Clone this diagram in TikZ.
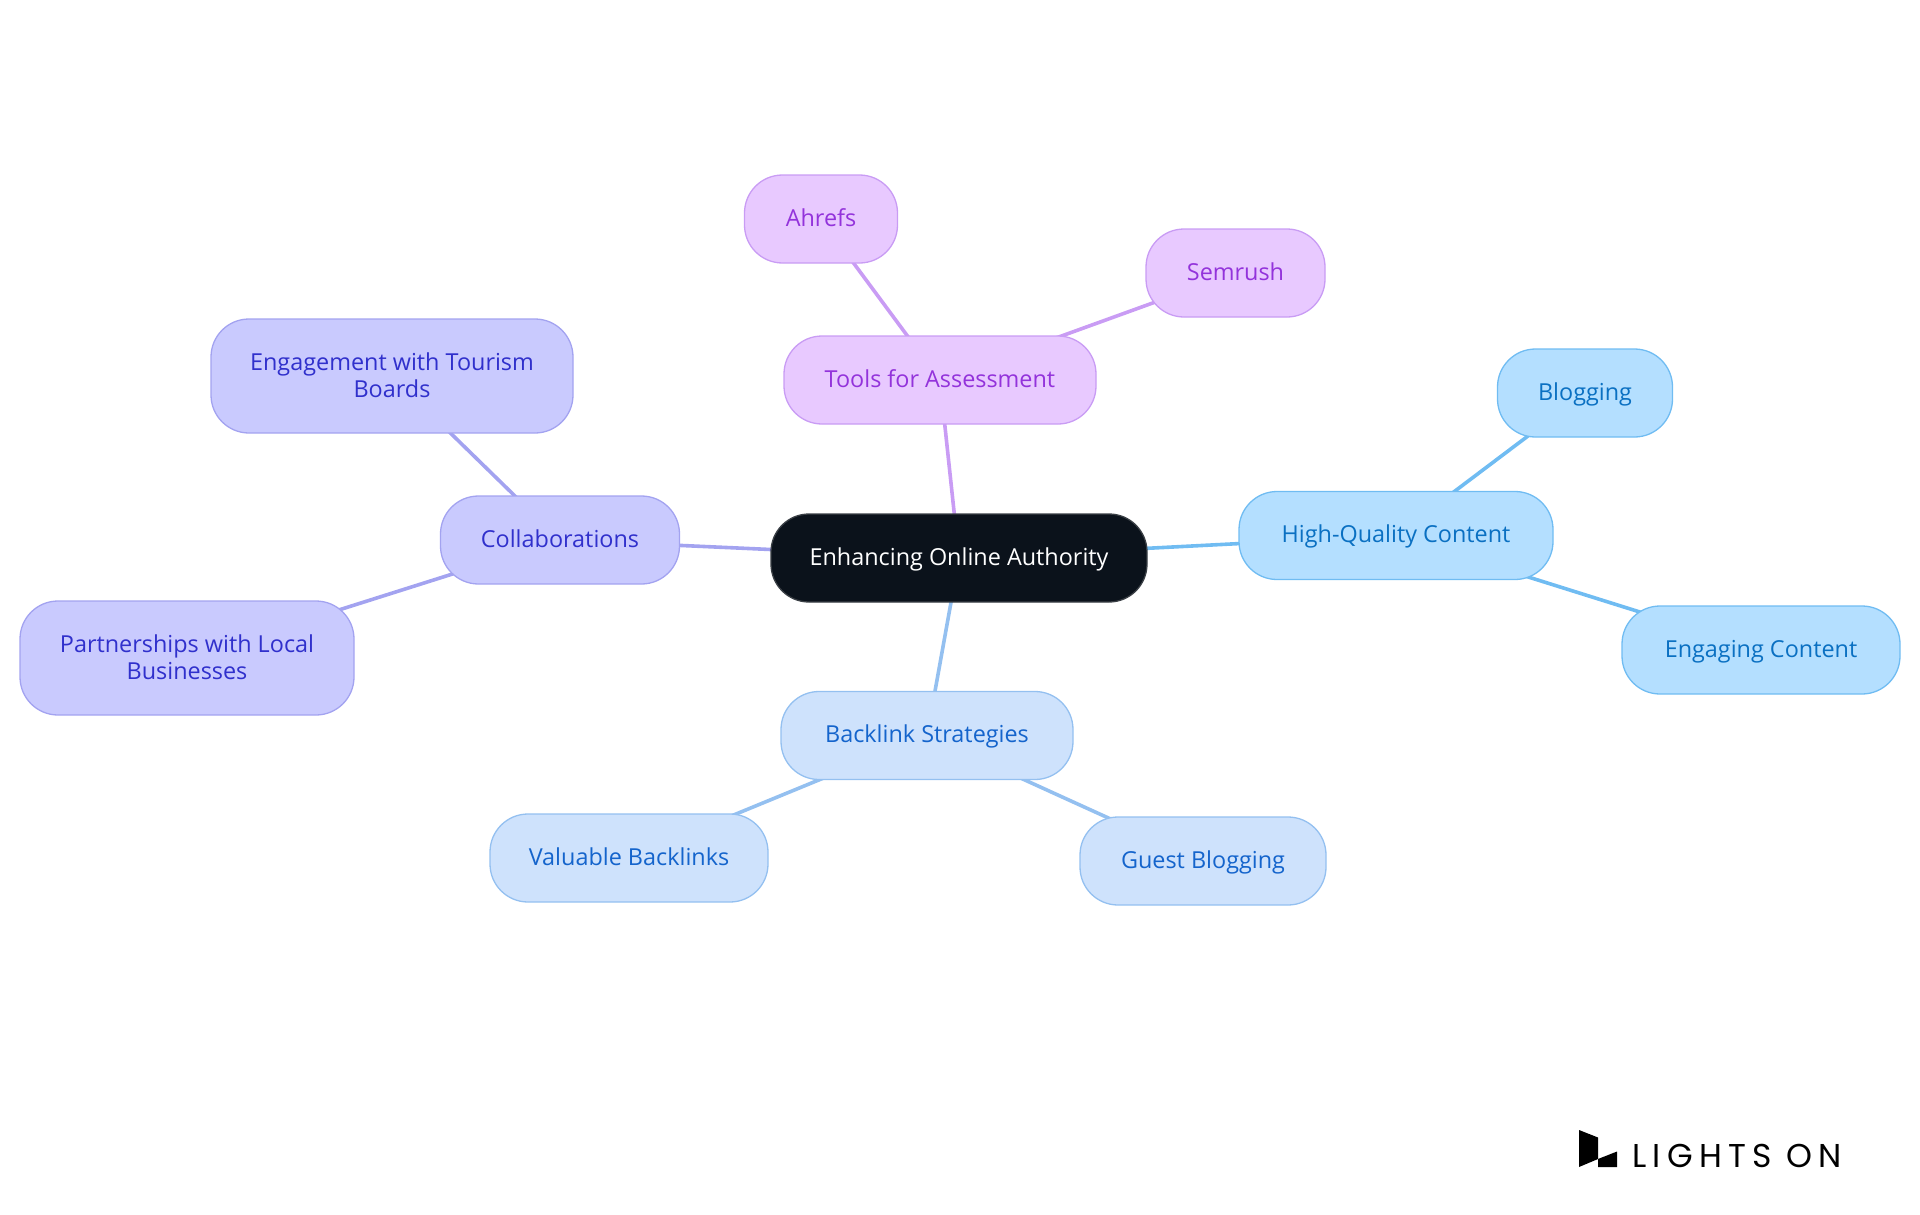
\documentclass[tikz,border=0pt]{standalone}
\usepackage{fontspec}
\setmainfont{Open Sans}
\newfontfamily\logofont[LetterSpace=19]{Poppins}
\usetikzlibrary{backgrounds}
\definecolor{cdark}{HTML}{0B121B}\definecolor{cdarkb}{HTML}{3A3F45}
\definecolor{pf}{HTML}{E8C9FF}\definecolor{pe}{HTML}{C99CF4}\definecolor{pt}{HTML}{9333DB}
\definecolor{inf}{HTML}{C9CAFE}\definecolor{ine}{HTML}{A3A3F0}\definecolor{int}{HTML}{3030CC}
\definecolor{sf}{HTML}{B4DFFF}\definecolor{se}{HTML}{70BCF2}\definecolor{st}{HTML}{0A70C2}
\definecolor{bf}{HTML}{CEE2FC}\definecolor{be}{HTML}{94C0F0}\definecolor{bt}{HTML}{1464CC}
\newcommand{\twolines}[2]{\raisebox{-2.5pt}[\height][\depth]{\begin{tabular}{@{}c@{}}#1\\#2\end{tabular}}}
\tikzset{
  x=1pt,y=-1pt,
  mm/.style n args={4}{rounded corners=38pt,draw=#2,fill=#1,text=#3,line width=1.3pt,inner sep=0pt,
    font=\fontsize{23.4}{27}\selectfont},
  purplebox/.style={mm={pf}{pe}{pt}{}},
  indigobox/.style={mm={inf}{ine}{int}{}},
  skybox/.style={mm={sf}{se}{st}{}},
  bluebox/.style={mm={bf}{be}{bt}{}},
  rootbox/.style={mm={cdark}{cdarkb}{white}{}},
  pedge/.style={draw=pe,line width=3.6pt},
  iedge/.style={draw=ine,line width=3.6pt},
  sedge/.style={draw=se,line width=3.6pt},
  bedge/.style={draw=be,line width=3.6pt},
  sized/.style 2 args={minimum width=#1 pt,minimum height=#2 pt},
  oneline/.style={text height=21pt,text depth=7pt},
}
\begin{document}
\begin{tikzpicture}
\useasboundingbox (0,0) rectangle (1920,1215);
\node[rootbox,oneline,sized={376}{88}] (root) at (959,558) {Enhancing Online Authority};
\node[purplebox,oneline,sized={312}{88}] (tools) at (940,380) {Tools for Assessment};
\node[purplebox,oneline,sized={153}{88}] (ahrefs) at (821,219) {Ahrefs};
\node[purplebox,oneline,sized={179}{88}] (semrush) at (1235.5,273) {Semrush};
\node[skybox,oneline,sized={175}{88}] (blog) at (1585,393) {Blogging};
\node[skybox,oneline,sized={314}{88}] (hq) at (1396,535.5) {High-Quality Content};
\node[skybox,oneline,sized={278}{88}] (eng) at (1761,650) {Engaging Content};
\node[bluebox,oneline,sized={292}{88}] (back) at (927,735.5) {Backlink Strategies};
\node[bluebox,oneline,sized={278}{88}] (val) at (629,858) {Valuable Backlinks};
\node[bluebox,oneline,sized={246}{88}] (guest) at (1203,861) {Guest Blogging};
\node[indigobox,oneline,sized={239}{88}] (coll) at (560,540) {Collaborations};
\node[indigobox,sized={362}{114}] (tour) at (392,376) {\twolines{Engagement with Tourism}{Boards}};
\node[indigobox,sized={334}{114}] (part) at (187,658) {\twolines{Partnerships with Local}{Businesses}};
\begin{pgfonlayer}{background}
\draw[pedge] (root.center) -- (tools.center);
\draw[pedge] (tools.center) -- (ahrefs.center);
\draw[pedge] (tools.center) -- (semrush.center);
\draw[sedge] (root.center) -- (hq.center);
\draw[sedge] (hq.center) -- (blog.center);
\draw[sedge] (hq.center) -- (eng.center);
\draw[bedge] (root.center) -- (back.center);
\draw[bedge] (back.center) -- (val.center);
\draw[bedge] (back.center) -- (guest.center);
\draw[iedge] (root.center) -- (coll.center);
\draw[iedge] (coll.center) -- (tour.center);
\draw[iedge] (coll.center) -- (part.center);
\end{pgfonlayer}
\fill[black] (1579,1130) -- (1598,1137.5) -- (1598,1159) -- (1579,1167) -- cycle;
\fill[black] (1598,1159) -- (1617,1151.5) -- (1617,1167) -- (1598,1167) -- cycle;
\node[anchor=base west,inner sep=0pt,text=black,font=\logofont\fontsize{33}{33}\selectfont] (logo) at (1632,1167) {LIGHTS ON};
\end{tikzpicture}
\end{document}
